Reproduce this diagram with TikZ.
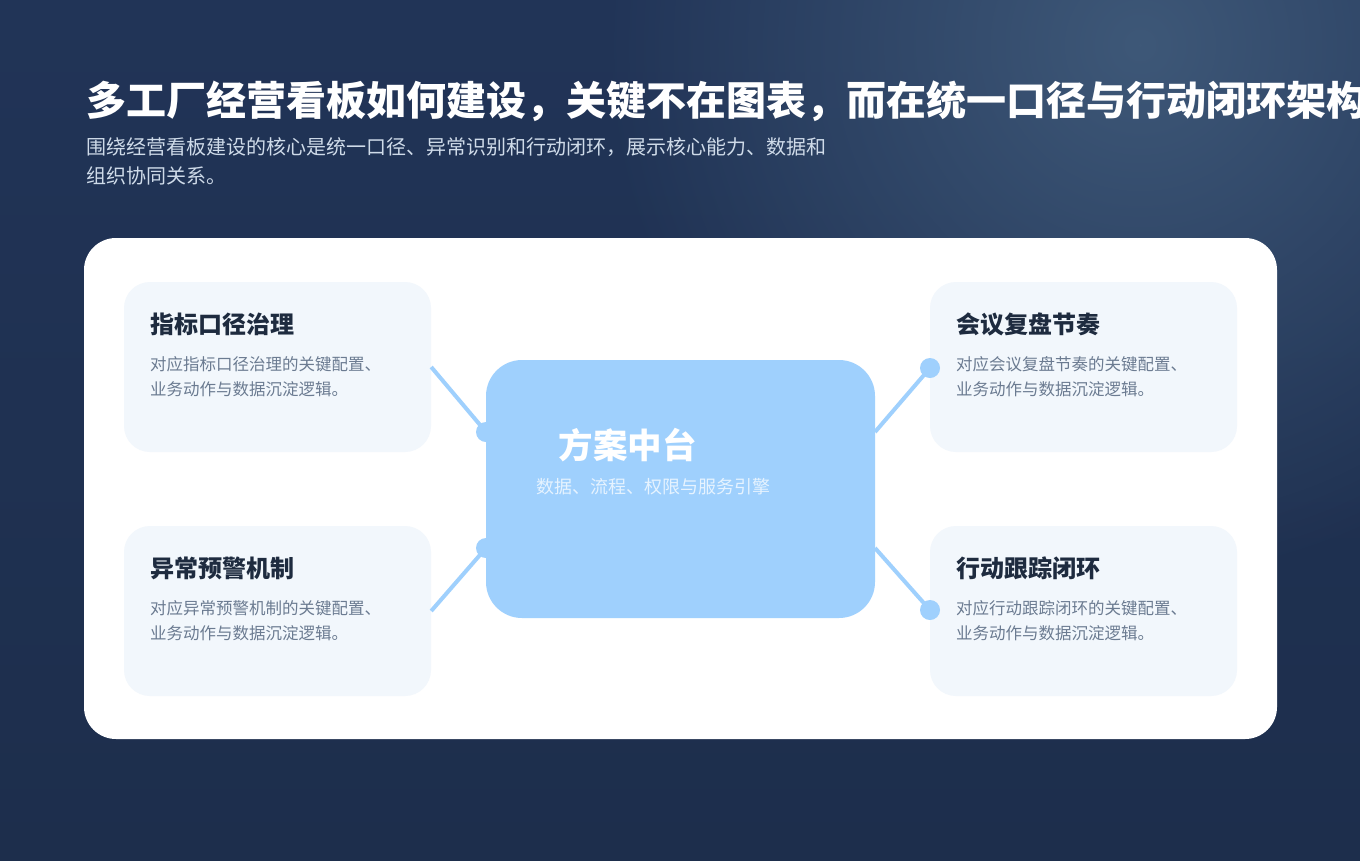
\documentclass[tikz,border=0pt]{standalone}
\usepackage{fontspec}
\usetikzlibrary{fadings}
\setmainfont{Noto Sans CJK SC}
\definecolor{bgtop}{HTML}{213457}
\definecolor{bgbot}{HTML}{1D2E4C}
\definecolor{glowc}{HTML}{3E5878}
\definecolor{cardfill}{HTML}{F2F7FC}
\definecolor{cardtitle}{HTML}{1E2B3F}
\definecolor{cardbody}{HTML}{6B7B91}
\definecolor{hubfill}{HTML}{9FD0FD}
\definecolor{hubsub}{HTML}{E6F3FF}
\definecolor{pagesub}{HTML}{CFDBE9}
\tikzfading[name=glowfade, inner color=transparent!0, outer color=transparent!100]
\tikzset{
  cardbox/.style={draw=none, fill=cardfill, rounded corners=26pt, minimum width=307pt, minimum height=170pt, inner sep=0pt},
  hubbox/.style={draw=none, fill=hubfill, rounded corners=36pt, minimum width=389pt, minimum height=258pt, inner sep=0pt},
  cardhead/.style={anchor=base west, inner sep=0pt, text=cardtitle, font=\fontsize{24}{29}\selectfont\bfseries},
  cardtext/.style={anchor=base west, inner sep=0pt, text=cardbody, font=\fontsize{16.5}{21}\selectfont},
  link/.style={draw=hubfill, line width=4pt},
  dotfill/.style={fill=hubfill},
}
\begin{document}
\begin{tikzpicture}[x=1pt,y=-1pt]
\useasboundingbox (0,0) rectangle (1360,860);
% background
\shade[top color=bgtop, bottom color=bgbot] (0,0) rectangle (1360,860);
\begin{scope}
\clip (0,0) rectangle (1360,860);
\fill[glowc, path fading=glowfade] (1140,45) circle (540);
\end{scope}
% title
\node[anchor=base west, inner sep=0pt, text=white, font=\fontsize{40}{48}\selectfont\bfseries] (title) at (86,115) {多工厂经营看板如何建设，关键不在图表，而在统一口径与行动闭环架构};
\node[anchor=base west, inner sep=0pt, text=pagesub, font=\fontsize{20}{24}\selectfont] (sub1) at (86,154.5) {围绕经营看板建设的核心是统一口径、异常识别和行动闭环，展示核心能力、数据和};
\node[anchor=base west, inner sep=0pt, text=pagesub, font=\fontsize{20}{24}\selectfont] (sub2) at (86,183.5) {组织协同关系。};
% panel
\node[fill=white, rounded corners=32pt, minimum width=1193pt, minimum height=501pt, inner sep=0pt] (panel) at (680.5,488.5) {};
% cards
\node[cardbox] (c1) at (277.5,367) {};
\node[cardbox] (c2) at (277.5,611) {};
\node[cardbox] (c3) at (1083.5,367) {};
\node[cardbox] (c4) at (1083.5,611) {};
% hub
\node[hubbox] (hub) at (680.5,489) {};
\coordinate (h1) at (486,432);
\coordinate (h2) at (486,548);
\coordinate (h3) at (875,432);
\coordinate (h4) at (875,548);
\coordinate (k3) at (930,368);
\coordinate (k4) at (930,610);
% connectors
\draw[link] (c1.east) -- (h1);
\draw[link] (c2.east) -- (h2);
\draw[link] (h3) -- (k3);
\draw[link] (h4) -- (k4);
\fill[dotfill] (h1) circle (10);
\fill[dotfill] (h2) circle (10);
\fill[dotfill] (k3) circle (10);
\fill[dotfill] (k4) circle (10);
% hub text
\node[anchor=base, inner sep=0pt, text=white, font=\fontsize{34.5}{41}\selectfont\bfseries] (hubt) at (627.5,458) {方案中台};
\node[anchor=base, inner sep=0pt, text=hubsub, font=\fontsize{18}{22}\selectfont] (hubs) at (653,493) {数据、流程、权限与服务引擎};
% card texts
\node[cardhead] (t1) at (150,333) {指标口径治理};
\node[cardtext] (b1a) at (150,370.5) {对应指标口径治理的关键配置、};
\node[cardtext] (b1b) at (150,395.5) {业务动作与数据沉淀逻辑。};
\node[cardhead] (t2) at (150,577) {异常预警机制};
\node[cardtext] (b2a) at (150,614.5) {对应异常预警机制的关键配置、};
\node[cardtext] (b2b) at (150,639.5) {业务动作与数据沉淀逻辑。};
\node[cardhead] (t3) at (956,333) {会议复盘节奏};
\node[cardtext] (b3a) at (956,370.5) {对应会议复盘节奏的关键配置、};
\node[cardtext] (b3b) at (956,395.5) {业务动作与数据沉淀逻辑。};
\node[cardhead] (t4) at (956,577) {行动跟踪闭环};
\node[cardtext] (b4a) at (956,614.5) {对应行动跟踪闭环的关键配置、};
\node[cardtext] (b4b) at (956,639.5) {业务动作与数据沉淀逻辑。};
\end{tikzpicture}
\end{document}
